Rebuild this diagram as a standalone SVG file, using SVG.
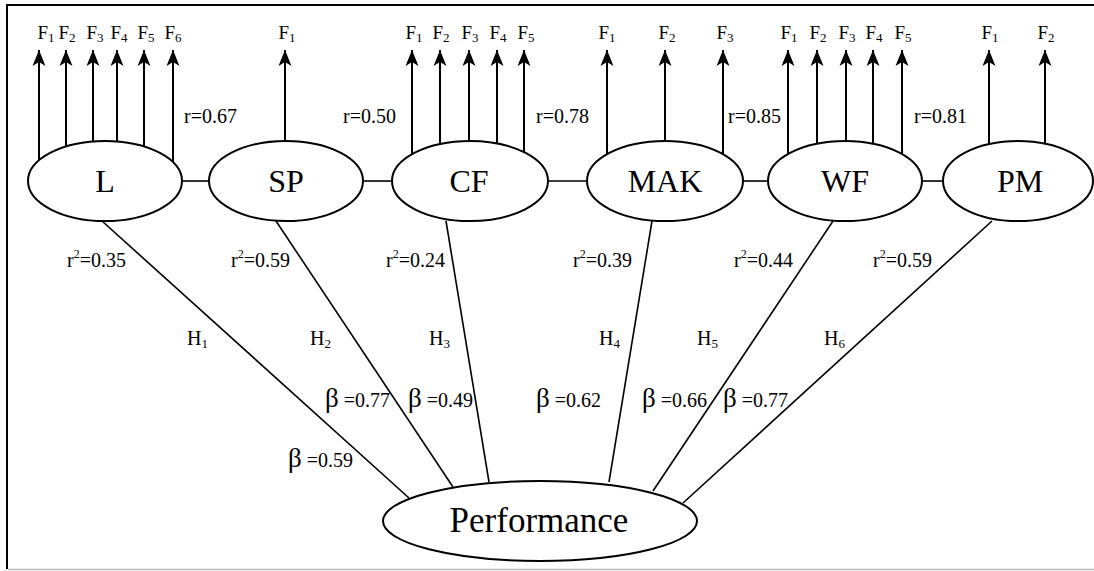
<svg xmlns="http://www.w3.org/2000/svg" width="1094" height="571" viewBox="0 0 1094 571" font-family="'Liberation Serif', 'Times New Roman', Times, serif">
  <style>
    text { font-family: 'Liberation Serif', 'Times New Roman', Times, serif; fill: #000; }
    .node { fill: #fff; stroke: #000; stroke-width: 2; }
    .nlabel { font-size: 32px; text-anchor: middle; }
    .plabel { font-size: 35px; text-anchor: middle; }
    .f { font-size: 19px; text-anchor: middle; }
    .sub { font-size: 13px; }
    .r { font-size: 20px; }
    .h { font-size: 20px; }
    .b { font-size: 20px; }
    .beta { font-size: 27px; }
    .sup { font-size: 12px; }
    .link { stroke: #000; stroke-width: 1.6; fill: none; }
    .ind { stroke: #000; stroke-width: 2; fill: none; marker-end: url(#head); }
  </style>
  <defs>
    <marker id="head" markerUnits="userSpaceOnUse" markerWidth="20" markerHeight="16" viewBox="-17 -8 18 16" refX="0" refY="0" orient="auto">
      <path d="M0,0 L-16,-6.5 L-12,0 L-16,6.5 Z" fill="#000"/>
    </marker>
  </defs>

  <!-- frame -->
  <rect x="0" y="0" width="1094" height="571" fill="#fff"/>
  <line x1="6" y1="5" x2="1094" y2="5" stroke="#000" stroke-width="2"/>
  <line x1="7" y1="4" x2="7" y2="569" stroke="#000" stroke-width="2"/>
  <line x1="8" y1="569.5" x2="1094" y2="569.5" stroke="#bbb" stroke-width="1.5"/>

  <!-- connectors -->
  <g id="connectors">
    <!-- links between constructs -->
    <line class="link" x1="182" y1="181" x2="209" y2="181"/>
    <line class="link" x1="363" y1="181" x2="392" y2="181"/>
    <line class="link" x1="547" y1="181" x2="587" y2="181"/>
    <line class="link" x1="742" y1="181" x2="768" y2="181"/>
    <line class="link" x1="922" y1="181" x2="943" y2="181"/>
    <!-- paths to Performance -->
    <line class="link" x1="102" y1="221" x2="409" y2="498"/>
    <line class="link" x1="276" y1="221" x2="453" y2="487"/>
    <line class="link" x1="446" y1="221" x2="489" y2="482"/>
    <line class="link" x1="652" y1="221" x2="609" y2="482"/>
    <line class="link" x1="833" y1="221" x2="653" y2="491"/>
    <line class="link" x1="992" y1="221" x2="683" y2="503"/>
    <!-- indicator arrows -->
    <line class="ind" x1="39" y1="160.4" x2="39" y2="50"/>
    <line class="ind" x1="66" y1="146.5" x2="66" y2="50"/>
    <line class="ind" x1="93" y1="141.5" x2="93" y2="50"/>
    <line class="ind" x1="117" y1="141.5" x2="117" y2="50"/>
    <line class="ind" x1="144" y1="146.5" x2="144" y2="50"/>
    <line class="ind" x1="173" y1="162.2" x2="173" y2="50"/>
    <line class="ind" x1="285" y1="141" x2="285" y2="50"/>
    <line class="ind" x1="412" y1="154.3" x2="412" y2="50"/>
    <line class="ind" x1="440" y1="144.1" x2="440" y2="50"/>
    <line class="ind" x1="469" y1="141" x2="469" y2="50"/>
    <line class="ind" x1="497" y1="143.5" x2="497" y2="50"/>
    <line class="ind" x1="524" y1="152.1" x2="524" y2="50"/>
    <line class="ind" x1="607" y1="154.3" x2="607" y2="50"/>
    <line class="ind" x1="665" y1="141" x2="665" y2="50"/>
    <line class="ind" x1="723" y1="154.3" x2="723" y2="50"/>
    <line class="ind" x1="788" y1="154.1" x2="788" y2="50"/>
    <line class="ind" x1="817" y1="143.7" x2="817" y2="50"/>
    <line class="ind" x1="846" y1="141" x2="846" y2="50"/>
    <line class="ind" x1="873" y1="143.7" x2="873" y2="50"/>
    <line class="ind" x1="902" y1="154.1" x2="902" y2="50"/>
    <line class="ind" x1="989" y1="144.1" x2="989" y2="50"/>
    <line class="ind" x1="1045" y1="143.7" x2="1045" y2="50"/>
  </g>

  <!-- indicator labels -->
  <g id="indicator-labels">
    <text class="f" x="46" y="39">F<tspan class="sub" dy="3">1</tspan></text>
    <text class="f" x="67" y="39">F<tspan class="sub" dy="3">2</tspan></text>
    <text class="f" x="95" y="39">F<tspan class="sub" dy="3">3</tspan></text>
    <text class="f" x="119" y="39">F<tspan class="sub" dy="3">4</tspan></text>
    <text class="f" x="146" y="39">F<tspan class="sub" dy="3">5</tspan></text>
    <text class="f" x="173" y="39">F<tspan class="sub" dy="3">6</tspan></text>
    <text class="f" x="287" y="39">F<tspan class="sub" dy="3">1</tspan></text>
    <text class="f" x="414" y="39">F<tspan class="sub" dy="3">1</tspan></text>
    <text class="f" x="441" y="39">F<tspan class="sub" dy="3">2</tspan></text>
    <text class="f" x="470" y="39">F<tspan class="sub" dy="3">3</tspan></text>
    <text class="f" x="498" y="39">F<tspan class="sub" dy="3">4</tspan></text>
    <text class="f" x="526" y="39">F<tspan class="sub" dy="3">5</tspan></text>
    <text class="f" x="607" y="39">F<tspan class="sub" dy="3">1</tspan></text>
    <text class="f" x="667" y="39">F<tspan class="sub" dy="3">2</tspan></text>
    <text class="f" x="725" y="39">F<tspan class="sub" dy="3">3</tspan></text>
    <text class="f" x="789" y="39">F<tspan class="sub" dy="3">1</tspan></text>
    <text class="f" x="818" y="39">F<tspan class="sub" dy="3">2</tspan></text>
    <text class="f" x="847" y="39">F<tspan class="sub" dy="3">3</tspan></text>
    <text class="f" x="874" y="39">F<tspan class="sub" dy="3">4</tspan></text>
    <text class="f" x="903" y="39">F<tspan class="sub" dy="3">5</tspan></text>
    <text class="f" x="990" y="39">F<tspan class="sub" dy="3">1</tspan></text>
    <text class="f" x="1046" y="39">F<tspan class="sub" dy="3">2</tspan></text>
  </g>

  <!-- correlations between constructs -->
  <g id="correlations">
    <text class="r" x="184" y="123">r=0.67</text>
    <text class="r" x="343" y="123">r=0.50</text>
    <text class="r" x="536" y="123">r=0.78</text>
    <text class="r" x="728" y="123">r=0.85</text>
    <text class="r" x="914" y="123">r=0.81</text>
  </g>

  <!-- constructs -->
  <g id="node-L">
    <ellipse class="node" cx="105" cy="181" rx="77" ry="40"/>
    <text class="nlabel" x="105" y="192">L</text>
  </g>
  <g id="node-SP">
    <ellipse class="node" cx="286" cy="181" rx="77" ry="40"/>
    <text class="nlabel" x="286" y="192">SP</text>
  </g>
  <g id="node-CF">
    <ellipse class="node" cx="470" cy="181" rx="78" ry="40"/>
    <text class="nlabel" x="469" y="192">CF</text>
  </g>
  <g id="node-MAK">
    <ellipse class="node" cx="665" cy="181" rx="78" ry="40"/>
    <text class="nlabel" x="665" y="192">MAK</text>
  </g>
  <g id="node-WF">
    <ellipse class="node" cx="845" cy="181" rx="77" ry="40"/>
    <text class="nlabel" x="845" y="192">WF</text>
  </g>
  <g id="node-PM">
    <ellipse class="node" cx="1018" cy="181" rx="75" ry="40"/>
    <text class="nlabel" x="1020" y="192">PM</text>
  </g>
  <g id="node-Performance">
    <ellipse class="node" cx="540" cy="521" rx="157" ry="40"/>
    <text class="plabel" x="539" y="532">Performance</text>
  </g>

  <!-- explained variance -->
  <g id="r2-labels">
    <text class="r" x="67" y="267">r<tspan class="sup" dy="-9">2</tspan><tspan dy="9">=0.35</tspan></text>
    <text class="r" x="231" y="267">r<tspan class="sup" dy="-9">2</tspan><tspan dy="9">=0.59</tspan></text>
    <text class="r" x="386" y="267">r<tspan class="sup" dy="-9">2</tspan><tspan dy="9">=0.24</tspan></text>
    <text class="r" x="573" y="267">r<tspan class="sup" dy="-9">2</tspan><tspan dy="9">=0.39</tspan></text>
    <text class="r" x="734" y="267">r<tspan class="sup" dy="-9">2</tspan><tspan dy="9">=0.44</tspan></text>
    <text class="r" x="873" y="267">r<tspan class="sup" dy="-9">2</tspan><tspan dy="9">=0.59</tspan></text>
  </g>

  <!-- hypotheses -->
  <g id="hypotheses">
    <text class="h" x="187" y="345">H<tspan class="sub" dy="3">1</tspan></text>
    <text class="h" x="310" y="345">H<tspan class="sub" dy="3">2</tspan></text>
    <text class="h" x="429" y="345">H<tspan class="sub" dy="3">3</tspan></text>
    <text class="h" x="599" y="345">H<tspan class="sub" dy="3">4</tspan></text>
    <text class="h" x="697" y="345">H<tspan class="sub" dy="3">5</tspan></text>
    <text class="h" x="824" y="345">H<tspan class="sub" dy="3">6</tspan></text>
  </g>

  <!-- path coefficients -->
  <g id="betas">
    <text class="b" x="288" y="467"><tspan class="beta">β</tspan> =0.59</text>
    <text class="b" x="325" y="407"><tspan class="beta">β</tspan> =0.77</text>
    <text class="b" x="408" y="407"><tspan class="beta">β</tspan> =0.49</text>
    <text class="b" x="536" y="407"><tspan class="beta">β</tspan> =0.62</text>
    <text class="b" x="642" y="407"><tspan class="beta">β</tspan> =0.66</text>
    <text class="b" x="723" y="407"><tspan class="beta">β</tspan> =0.77</text>
  </g>
</svg>
